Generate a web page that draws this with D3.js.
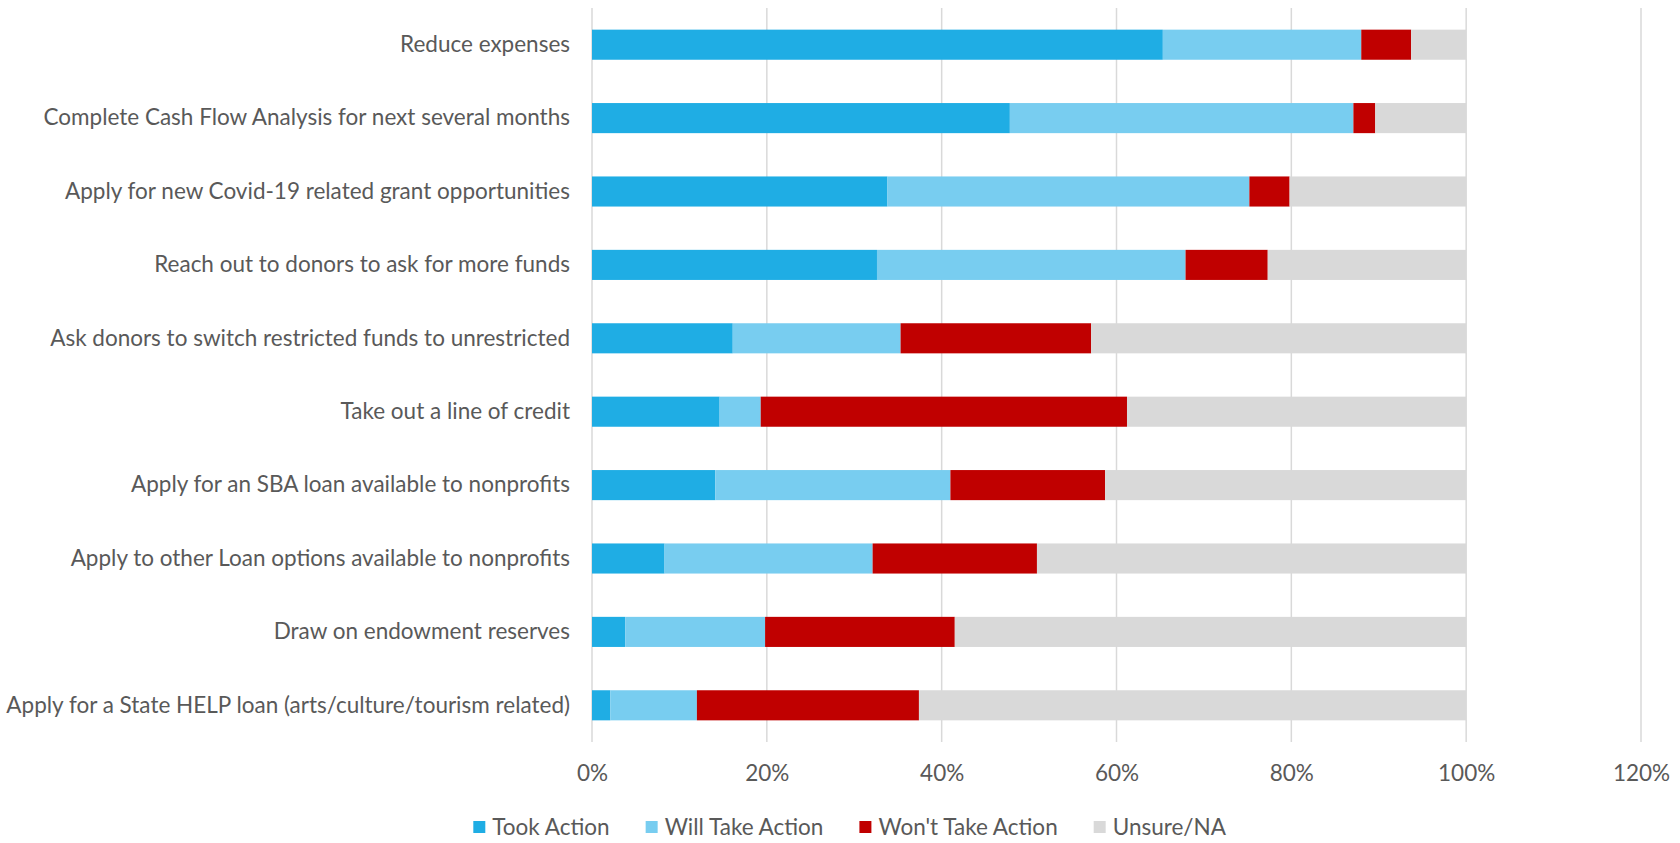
<!DOCTYPE html>
<html>
<head>
<meta charset="utf-8">
<script src="https://cdn.jsdelivr.net/npm/d3@7"></script>
<style>
  html, body { margin: 0; padding: 0; background: #fff; }
  svg { display: block; }
  text { font-family: Lato, "Open Sans", sans-serif; fill: #595959; }
</style>
</head>
<body>
<svg id="chart" width="1680" height="843"></svg>
<script>
// Actions taken by organisations (share of respondents)
const categories = [
  "Reduce expenses",
  "Complete Cash Flow Analysis for next several months",
  "Apply for new Covid-19 related grant opportunities",
  "Reach out to donors to ask for more funds",
  "Ask donors to switch restricted funds to unrestricted",
  "Take out a line of credit",
  "Apply for an SBA loan available to nonprofits",
  "Apply to other Loan options available to nonprofits",
  "Draw on endowment reserves",
  "Apply for a State HELP loan (arts/culture/tourism related)"
];
const seriesNames = ["Took Action", "Will Take Action", "Won't Take Action", "Unsure/NA"];
const tookAction     = [0.653, 0.478, 0.338, 0.326, 0.161, 0.146, 0.141, 0.083, 0.038, 0.021];
const willTakeAction = [0.227, 0.393, 0.414, 0.353, 0.192, 0.047, 0.269, 0.238, 0.160, 0.099];
const wontTakeAction = [0.057, 0.025, 0.046, 0.094, 0.218, 0.419, 0.177, 0.188, 0.217, 0.254];
const unsureNA       = [0.063, 0.104, 0.202, 0.227, 0.429, 0.388, 0.413, 0.491, 0.585, 0.626];
const xTicks = [0, 0.2, 0.4, 0.6, 0.8, 1.0, 1.2];
const colors = ["#1FADE4", "#78CDF0", "#C00000", "#D9D9D9"];

const rows = categories.map((c, i) => ({
  category: c,
  "Took Action": tookAction[i],
  "Will Take Action": willTakeAction[i],
  "Won't Take Action": wontTakeAction[i],
  "Unsure/NA": unsureNA[i]
}));

const FONT_SIZE = "22.5px";
const svg = d3.select("#chart");
const plot = { left: 592, right: 1641, top: 8, bottom: 742 };

const x = d3.scaleLinear().domain([0, 1.2]).range([plot.left, plot.right]);
const y = d3.scaleBand().domain(categories).range([plot.top, plot.bottom])
  .paddingInner(0.59).paddingOuter(0.295);
const color = d3.scaleOrdinal().domain(seriesNames).range(colors);

// vertical gridlines
svg.append("g")
  .selectAll("line")
  .data(xTicks)
  .join("line")
  .attr("x1", d => x(d)).attr("x2", d => x(d))
  .attr("y1", plot.top).attr("y2", plot.bottom)
  .attr("stroke", "#D9D9D9")
  .attr("stroke-width", 1.5);

// stacked bars
const stacked = d3.stack().keys(seriesNames)(rows);
svg.append("g")
  .selectAll("g")
  .data(stacked)
  .join("g")
  .attr("fill", d => color(d.key))
  .selectAll("rect")
  .data(d => d)
  .join("rect")
  .attr("x", d => x(d[0]))
  .attr("width", d => x(d[1]) - x(d[0]))
  .attr("y", d => y(d.data.category))
  .attr("height", y.bandwidth());

// category axis
const yAxis = svg.append("g")
  .attr("transform", `translate(${plot.left},0)`)
  .call(d3.axisLeft(y).tickSize(0).tickPadding(22));
yAxis.select(".domain").remove();
yAxis.selectAll("text")
  .style("font-size", FONT_SIZE)
  .style("font-family", "Lato, 'Open Sans', sans-serif")
  .attr("fill", "#595959");

// percentage axis
const xAxis = svg.append("g")
  .attr("transform", `translate(0,${plot.bottom})`)
  .call(d3.axisBottom(x).tickValues(xTicks).tickFormat(d3.format(".0%")).tickSize(0).tickPadding(23));
xAxis.select(".domain").remove();
xAxis.selectAll("text")
  .style("font-size", FONT_SIZE)
  .style("font-family", "Lato, 'Open Sans', sans-serif")
  .attr("fill", "#595959");

// legend
const legend = svg.append("g").attr("transform", "translate(0,827)");
const items = legend.selectAll("g")
  .data(seriesNames)
  .join("g");
items.append("rect")
  .attr("width", 12).attr("height", 12)
  .attr("y", -6)
  .attr("fill", d => color(d));
items.append("text")
  .attr("x", 19)
  .attr("dy", "0.35em")
  .style("font-size", FONT_SIZE)
  .text(d => d);

let offset = 0;
const gap = 36;
const widths = [];
items.each(function () {
  widths.push(this.getBBox().width);
});
const total = d3.sum(widths) + gap * (widths.length - 1);
const start = 850 - total / 2;
items.attr("transform", (d, i) => {
  const tx = start + offset;
  offset += widths[i] + gap;
  return `translate(${tx},0)`;
});
</script>
</body>
</html>
